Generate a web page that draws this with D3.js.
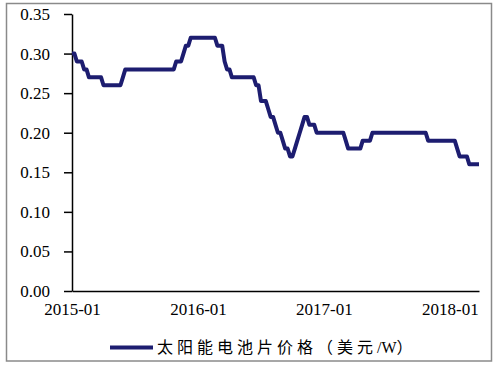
<!DOCTYPE html>
<html>
<head>
<meta charset="utf-8">
<script src="https://cdn.jsdelivr.net/npm/d3@7"></script>
<style>
  html, body { margin: 0; padding: 0; background: #fff; }
  svg { display: block; }
</style>
</head>
<body>
<script>
// ---- data ----
const xLabels = ["2015-01", "2016-01", "2017-01", "2018-01"];
const xLabelWeeks = [0, 52, 104, 156];
const yTicks = [0, 0.05, 0.10, 0.15, 0.20, 0.25, 0.30, 0.35];
const seriesName = "太阳能电池片价格（美元/W）";
// weekly price, 2015-01 .. 2018-03
const prices = [
  0.30,0.30,0.29,0.29,0.29,0.28,0.28,0.27,0.27,0.27,
  0.27,0.27,0.27,0.26,0.26,0.26,0.26,0.26,0.26,0.26,
  0.26,0.27,0.28,0.28,0.28,0.28,0.28,0.28,0.28,0.28,
  0.28,0.28,0.28,0.28,0.28,0.28,0.28,0.28,0.28,0.28,
  0.28,0.28,0.28,0.29,0.29,0.29,0.30,0.31,0.31,0.32,
  0.32,0.32,0.32,0.32,0.32,0.32,0.32,0.32,0.32,0.32,
  0.31,0.31,0.31,0.29,0.28,0.28,0.27,0.27,0.27,0.27,
  0.27,0.27,0.27,0.27,0.27,0.27,0.26,0.26,0.24,0.24,
  0.24,0.23,0.22,0.22,0.21,0.20,0.20,0.19,0.18,0.18,
  0.17,0.17,0.18,0.19,0.20,0.21,0.22,0.22,0.21,0.21,
  0.21,0.20,0.20,0.20,0.20,0.20,0.20,0.20,0.20,0.20,
  0.20,0.20,0.20,0.19,0.18,0.18,0.18,0.18,0.18,0.18,
  0.19,0.19,0.19,0.19,0.20,0.20,0.20,0.20,0.20,0.20,
  0.20,0.20,0.20,0.20,0.20,0.20,0.20,0.20,0.20,0.20,
  0.20,0.20,0.20,0.20,0.20,0.20,0.20,0.19,0.19,0.19,
  0.19,0.19,0.19,0.19,0.19,0.19,0.19,0.19,0.19,0.18,
  0.17,0.17,0.17,0.17,0.16,0.16,0.16,0.16,0.16
];

// ---- layout ----
const W = 494, H = 365;
const mLeft = 72, mRight = 479, mTop = 14, mBottom = 291;
const lineColor = "#1d1d70";
const font = "'Liberation Serif', 'Times New Roman', 'Noto Sans CJK SC', serif";

const svg = d3.select("body").append("svg").attr("width", W).attr("height", H);

// outer frame
svg.append("rect")
  .attr("x", 6.5).attr("y", 3.5).attr("width", 485).attr("height", 357.5)
  .attr("fill", "none").attr("stroke", "#8a8a8a").attr("stroke-width", 1.5);

const x = d3.scaleLinear().domain([0, prices.length - 1]).range([mLeft, mRight]);
const y = d3.scaleLinear().domain([0, 0.35]).range([mBottom, mTop]);

// y axis
const yAxis = svg.append("g").attr("transform", `translate(${mLeft},0)`)
  .call(d3.axisLeft(y).tickValues(yTicks).tickFormat(d3.format(".2f")).tickSize(8).tickSizeOuter(0).tickPadding(14));
yAxis.select(".domain").attr("stroke", "#000").attr("stroke-width", 1.5);
yAxis.selectAll(".tick line").attr("stroke", "#000").attr("stroke-width", 1.5);
yAxis.selectAll(".tick text").attr("font-family", font).attr("font-size", 17).attr("fill", "#000");

// x axis
const xAxis = svg.append("g").attr("transform", `translate(0,${mBottom})`)
  .call(d3.axisBottom(x).tickValues(xLabelWeeks).tickFormat((d, i) => xLabels[i]).tickSize(0).tickSizeOuter(0).tickPadding(12));
xAxis.select(".domain").attr("stroke", "#000").attr("stroke-width", 1.5);
xAxis.selectAll(".tick text").attr("font-family", font).attr("font-size", 17).attr("fill", "#000");

// series line
const line = d3.line().x((d, i) => x(i)).y(d => y(d));
svg.append("path")
  .datum(prices)
  .attr("d", line)
  .attr("fill", "none")
  .attr("stroke", lineColor)
  .attr("stroke-width", 4)
  .attr("stroke-linejoin", "round")
  .attr("stroke-linecap", "butt");

// legend
svg.append("line")
  .attr("x1", 110).attr("x2", 153).attr("y1", 347.5).attr("y2", 347.5)
  .attr("stroke", lineColor).attr("stroke-width", 4);
const legendText = svg.append("text")
  .attr("x", 157).attr("y", 353)
  .attr("font-family", font).attr("font-size", 16)
  .attr("fill", "#000");
const cut = seriesName.indexOf("/");
legendText.append("tspan").attr("letter-spacing", "4px").text(seriesName.slice(0, cut));
legendText.append("tspan").text(seriesName.slice(cut, cut + 2));
legendText.append("tspan").text(seriesName.slice(cut + 2));
</script>
</body>
</html>
